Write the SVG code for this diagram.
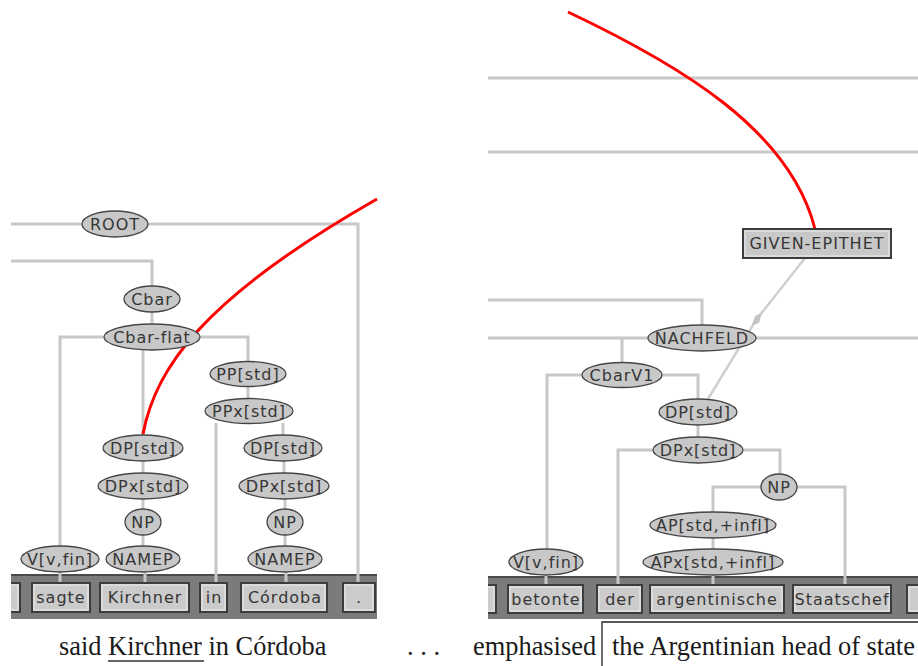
<svg xmlns="http://www.w3.org/2000/svg" width="918" height="666" viewBox="0 0 918 666">
<defs>
<clipPath id="clipL"><rect x="11" y="0" width="366" height="620"/></clipPath>
<clipPath id="clipR"><rect x="488" y="0" width="430" height="620"/></clipPath>
</defs>
<style>
.e{fill:#c8c8c8;stroke:#454545;stroke-width:1.3}
.t{font-family:"DejaVu Sans",sans-serif;font-size:16px;letter-spacing:1px;fill:#363636;text-anchor:middle;dominant-baseline:central}
.c{fill:none;stroke:#c8c8c8;stroke-width:3}
.red{fill:none;stroke:#ff0000;stroke-width:3}
.bar{fill:#7b7b7b}
.barTop{stroke:#4a4a4a;stroke-width:2}
.w{fill:#cbcbcb;stroke:#3c3c3c;stroke-width:2}
.wi{fill:none;stroke:#ececec;stroke-width:1}
.cap{font-family:"Liberation Serif",serif;font-size:26.4px;fill:#1a1a1a}
</style>
<rect width="918" height="666" fill="#ffffff"/>

<g id="bars">
<rect class="bar" x="11" y="574" width="366" height="45"/>
<line class="barTop" x1="11" y1="575" x2="377" y2="575"/>
<rect class="bar" x="488" y="576" width="430" height="43"/>
<line class="barTop" x1="488" y1="577" x2="918" y2="577"/>
</g>

<g id="connectors">
<polyline class="c" points="11,224 82,224"/>
<polyline class="c" points="148,224 358,224 358,583"/>
<polyline class="c" points="11,261 152,261 152,286"/>
<line class="c" x1="152" y1="312" x2="152" y2="325"/>
<polyline class="c" points="105,337 60,337 60,546"/>
<polyline class="c" points="200,337 248,337 248,362"/>
<line class="c" x1="143" y1="350" x2="143" y2="435"/>
<line class="c" x1="248" y1="386" x2="248" y2="398"/>
<polyline class="c" points="216,423 216,583"/>
<line class="c" x1="283" y1="423" x2="283" y2="435"/>
<line class="c" x1="143" y1="461" x2="143" y2="473"/>
<line class="c" x1="143" y1="499" x2="143" y2="509"/>
<line class="c" x1="143" y1="535" x2="143" y2="546"/>
<line class="c" x1="284" y1="461" x2="284" y2="473"/>
<line class="c" x1="285" y1="499" x2="285" y2="509"/>
<line class="c" x1="285" y1="535" x2="285" y2="546"/>
<line class="c" x1="60" y1="572" x2="60" y2="583"/>
<line class="c" x1="145" y1="572" x2="145" y2="583"/>
<line class="c" x1="286" y1="572" x2="286" y2="583"/>
<line class="c" x1="488" y1="78" x2="918" y2="78"/>
<line class="c" x1="488" y1="152" x2="918" y2="152"/>
<polyline class="c" points="488,300 702,300 702,325"/>
<line class="c" x1="488" y1="338" x2="648" y2="338"/>
<line class="c" x1="756" y1="338" x2="918" y2="338"/>
<line class="c" x1="622" y1="338" x2="622" y2="363"/>
<polyline class="c" points="582,375 547,375 547,550"/>
<polyline class="c" points="662,375 698,375 698,400"/>
<line class="c" x1="698" y1="425" x2="698" y2="437"/>
<polyline class="c" points="653,450 618,450 618,585"/>
<polyline class="c" points="743,450 780,450 780,474"/>
<polyline class="c" points="761,487 713,487 713,512"/>
<polyline class="c" points="797,487 845,487 845,585"/>
<line class="c" x1="713" y1="538" x2="713" y2="549"/>
<line class="c" x1="713" y1="575" x2="713" y2="585"/>
<line class="c" x1="546" y1="575" x2="546" y2="585"/>
<polyline fill="none" stroke="#cfcfcf" stroke-width="2.5" points="805,258 756,320 708,399"/>
<polygon fill="#c4c4c4" points="762,313 759,323 752,325 755,316"/>
<path class="red" d="M143,434 C155,370 200,300 377,199"/>
<path class="red" d="M568,12 C680,65 790,130 815,229"/>
</g>

<g id="n-root"><ellipse class="e" cx="115" cy="224" rx="33" ry="13"/><text class="t" x="115" y="224">ROOT</text></g>
<g id="n-cbar"><ellipse class="e" cx="152" cy="299" rx="28" ry="13"/><text class="t" x="152" y="299">Cbar</text></g>
<g id="n-cbarflat"><ellipse class="e" cx="152" cy="337" rx="48" ry="13"/><text class="t" x="152" y="337">Cbar-flat</text></g>
<g id="n-pp"><ellipse class="e" cx="248" cy="374" rx="38" ry="12.5"/><text class="t" x="248" y="374">PP[std]</text></g>
<g id="n-ppx"><ellipse class="e" cx="249" cy="411" rx="44" ry="12.5"/><text class="t" x="249" y="411">PPx[std]</text></g>
<g id="n-dp1"><ellipse class="e" cx="143" cy="448" rx="40" ry="13"/><text class="t" x="143" y="448">DP[std]</text></g>
<g id="n-dpx1"><ellipse class="e" cx="143" cy="486" rx="45" ry="13"/><text class="t" x="143" y="486">DPx[std]</text></g>
<g id="n-np1"><ellipse class="e" cx="143" cy="522" rx="18" ry="13"/><text class="t" x="143" y="522">NP</text></g>
<g id="n-namep1"><ellipse class="e" cx="143" cy="559" rx="37" ry="13"/><text class="t" x="143" y="559">NAMEP</text></g>
<g id="n-dp2"><ellipse class="e" cx="283" cy="448" rx="39" ry="13"/><text class="t" x="283" y="448">DP[std]</text></g>
<g id="n-dpx2"><ellipse class="e" cx="284" cy="486" rx="45" ry="13"/><text class="t" x="284" y="486">DPx[std]</text></g>
<g id="n-np2"><ellipse class="e" cx="285" cy="522" rx="18" ry="13"/><text class="t" x="285" y="522">NP</text></g>
<g id="n-namep2"><ellipse class="e" cx="285" cy="559" rx="37" ry="13"/><text class="t" x="285" y="559">NAMEP</text></g>
<g id="n-vfin1"><ellipse class="e" cx="60" cy="559" rx="39" ry="13"/><text class="t" x="60" y="559">V[v,fin]</text></g>

<g id="w-l0" clip-path="url(#clipL)"><rect class="w" x="-10" y="583" width="30" height="29"/><rect class="wi" x="-8" y="585" width="26" height="25"/></g>
<g id="w-sagte"><rect class="w" x="32" y="583" width="58" height="29"/><rect class="wi" x="34" y="585" width="54" height="25"/><text class="t" x="61" y="597.5">sagte</text></g>
<g id="w-kirchner"><rect class="w" x="100" y="583" width="89" height="29"/><rect class="wi" x="102" y="585" width="85" height="25"/><text class="t" x="145" y="597.5">Kirchner</text></g>
<g id="w-in"><rect class="w" x="200" y="583" width="27" height="29"/><rect class="wi" x="202" y="585" width="23" height="25"/><text class="t" x="214" y="597.5">in</text></g>
<g id="w-cordoba"><rect class="w" x="241" y="583" width="86" height="29"/><rect class="wi" x="243" y="585" width="82" height="25"/><text class="t" x="285" y="597.5">Córdoba</text></g>
<g id="w-dot"><rect class="w" x="343" y="583" width="32" height="29"/><rect class="wi" x="345" y="585" width="28" height="25"/><text class="t" x="359" y="597.5">.</text></g>

<g id="n-given"><rect x="743" y="229" width="148" height="29" fill="#c8c8c8" stroke="#3c3c3c" stroke-width="2"/><rect class="wi" x="745" y="231" width="144" height="25"/><text class="t" x="817" y="243.5">GIVEN-EPITHET</text></g>
<g id="n-nachfeld"><ellipse class="e" cx="702" cy="338" rx="54" ry="13"/><text class="t" x="702" y="338">NACHFELD</text></g>
<g id="n-cbarv1"><ellipse class="e" cx="622" cy="375" rx="40" ry="12.5"/><text class="t" x="622" y="375">CbarV1</text></g>
<g id="n-dp3"><ellipse class="e" cx="698" cy="412" rx="39" ry="13"/><text class="t" x="698" y="412">DP[std]</text></g>
<g id="n-dpx3"><ellipse class="e" cx="698" cy="450" rx="45" ry="13"/><text class="t" x="698" y="450">DPx[std]</text></g>
<g id="n-np3"><ellipse class="e" cx="779" cy="487" rx="18" ry="13"/><text class="t" x="779" y="487">NP</text></g>
<g id="n-ap"><ellipse class="e" cx="713" cy="525" rx="63" ry="13"/><text class="t" x="713" y="525">AP[std,+infl]</text></g>
<g id="n-apx"><ellipse class="e" cx="713" cy="562" rx="70" ry="13"/><text class="t" x="713" y="562">APx[std,+infl]</text></g>
<g id="n-vfin2"><ellipse class="e" cx="546" cy="562" rx="37" ry="13"/><text class="t" x="546" y="562">V[v,fin]</text></g>

<g id="w-r0" clip-path="url(#clipR)"><rect class="w" x="470" y="585" width="26" height="28"/><rect class="wi" x="472" y="587" width="22" height="24"/></g>
<g id="w-betonte"><rect class="w" x="508" y="585" width="75" height="28"/><rect class="wi" x="510" y="587" width="71" height="24"/><text class="t" x="546" y="599">betonte</text></g>
<g id="w-der"><rect class="w" x="597" y="585" width="45" height="28"/><rect class="wi" x="599" y="587" width="41" height="24"/><text class="t" x="620" y="599">der</text></g>
<g id="w-arg"><rect class="w" x="650" y="585" width="134" height="28"/><rect class="wi" x="652" y="587" width="130" height="24"/><text class="t" x="717" y="599">argentinische</text></g>
<g id="w-staat"><rect class="w" x="793" y="585" width="98" height="28"/><rect class="wi" x="795" y="587" width="94" height="24"/><text class="t" x="842" y="599">Staatschef</text></g>
<g id="w-r5" clip-path="url(#clipR)"><rect class="w" x="907" y="585" width="30" height="28"/><rect class="wi" x="909" y="587" width="26" height="24"/></g>

<g id="caption">
<text class="cap" x="59" y="655">said Kirchner in Córdoba</text>
<line x1="108" y1="661" x2="204" y2="661" stroke="#333" stroke-width="1.3"/>
<text class="cap" x="407" y="655">. . .</text>
<text class="cap" x="473" y="655">emphasised</text>
<path d="M602,666 V622 H918" fill="none" stroke="#222" stroke-width="1.3"/>
<text class="cap" x="612" y="655">the Argentinian head of state</text>
</g>
</svg>
